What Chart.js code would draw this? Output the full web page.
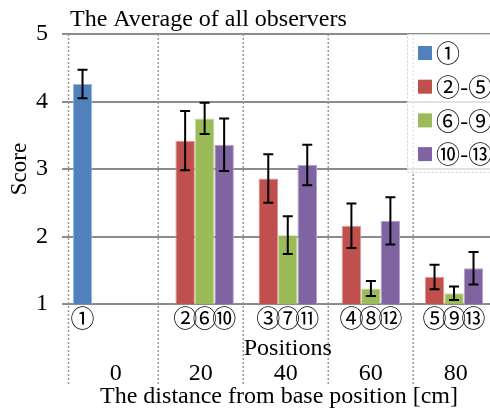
<!DOCTYPE html>
<html>
<head>
<meta charset="utf-8">
<script src="https://cdn.jsdelivr.net/npm/chart.js@4.4.1/dist/chart.umd.min.js"></script>
<style>
  html, body { margin: 0; padding: 0; background: #fff; }
  #wrap { width: 490px; height: 412px; }
</style>
</head>
<body>
<div id="wrap"><canvas id="chartScore" width="490" height="412"></canvas></div>
<script>
// ── DATOS ─────────────────────────────────────────────────────────
const distances   = [0, 20, 40, 60, 80]
const yTicks      = [1, 2, 3, 4, 5]
const seriesNames = ['①', '②-⑤', '⑥-⑨', '⑩-⑬']

const scoreBlue   = [4.26, null, null, null, null]
const scoreRed    = [null, 3.42, 2.86, 2.16, 1.40]
const scoreGreen  = [null, 3.75, 2.02, 1.23, 1.16]
const scorePurple = [null, 3.36, 3.06, 2.23, 1.53]

const errBlue     = [0.21, null, null, null, null]
const errRed      = [null, 0.44, 0.36, 0.33, 0.18]
const errGreen    = [null, 0.23, 0.28, 0.11, 0.10]
const errPurple   = [null, 0.39, 0.30, 0.35, 0.24]

const markBlue    = ['①', '', '', '', '']
const markRed     = ['', '②', '③', '④', '⑤']
const markGreen   = ['', '⑥', '⑦', '⑧', '⑨']
const markPurple  = ['', '⑩', '⑪', '⑫', '⑬']

const titleText   = 'The Average of all observers'
const yTitle      = 'Score'
const xInnerTitle = 'Positions'
const xTitle      = 'The distance from base position [cm]'

const colores = ['#4F81BD', '#C0504D', '#9BBB59', '#8064A2']
const bordes  = ['#9DB9DC', '#DE9A98', '#C6DA9E', '#B3A2C8']

const SERIF = '"Liberation Serif", "Times New Roman", serif'
const CJK   = '"Noto Sans CJK JP", "DejaVu Sans", sans-serif'

const scores = [scoreBlue, scoreRed, scoreGreen, scorePurple]
const errors = [errBlue, errRed, errGreen, errPurple]
const marks  = [markBlue, markRed, markGreen, markPurple]

// ── PLUGIN: líneas punteadas, barras de error, marcas y leyenda ──
const decoracion = {
    id: 'decoracion',
    beforeDatasetsDraw(chart) {
        const { ctx, chartArea } = chart
        const xd = chart.scales.xd
        const yEnd = chartArea.bottom + 80
        ctx.save()
        ctx.strokeStyle = '#9a9a9a'
        ctx.lineWidth = 1.5
        ctx.setLineDash([2, 2])
        const xs = [chartArea.left + 0.5].concat(distances.slice(0, -1).map(d => xd.getPixelForValue(d + 10)))
        xs.forEach(x => {
            ctx.beginPath()
            ctx.moveTo(x, chartArea.top)
            ctx.lineTo(x, yEnd)
            ctx.stroke()
        })
        ctx.restore()
    },
    afterDatasetsDraw(chart) {
        const { ctx, chartArea } = chart
        const y = chart.scales.y
        ctx.save()

        // barras de error
        ctx.strokeStyle = '#000'
        ctx.lineWidth = 2
        scores.forEach((serie, d) => {
            const meta = chart.getDatasetMeta(d)
            serie.forEach((v, j) => {
                if (v === null) return
                const bar = meta.data[j]
                const e = errors[d][j]
                const top = y.getPixelForValue(v + e)
                const bot = y.getPixelForValue(v - e)
                ctx.beginPath()
                ctx.moveTo(bar.x, top); ctx.lineTo(bar.x, bot)
                ctx.moveTo(bar.x - 5, top); ctx.lineTo(bar.x + 5, top)
                ctx.moveTo(bar.x - 5, bot); ctx.lineTo(bar.x + 5, bot)
                ctx.stroke()
            })
        })

        // números encerrados bajo cada barra
        ctx.fillStyle = '#000'
        ctx.font = '24px ' + CJK
        ctx.textAlign = 'center'
        ctx.textBaseline = 'middle'
        marks.forEach((serie, d) => {
            const meta = chart.getDatasetMeta(d)
            serie.forEach((m, j) => {
                if (!m) return
                ctx.fillText(m, meta.data[j].x, chartArea.bottom + 14)
            })
        })

        // "Positions"
        ctx.font = '24px ' + SERIF
        ctx.fillText(xInnerTitle, chart.scales.xd.getPixelForValue(40) + 2, chartArea.bottom + 45)

        // título
        ctx.textAlign = 'left'
        ctx.textBaseline = 'alphabetic'
        ctx.fillText(titleText, chartArea.left + 2, 26)
        ctx.restore()
    },
    afterDraw(chart) {
        const { ctx, chartArea } = chart
        const x0 = chartArea.right - 83
        const y0 = chartArea.top
        const w = 90
        const h = 138
        ctx.save()
        ctx.fillStyle = 'rgba(255,255,255,0.75)'
        ctx.fillRect(x0, y0, w, h)
        ctx.strokeStyle = '#d0d0d0'
        ctx.lineWidth = 1
        ctx.setLineDash([2, 2])
        ctx.strokeRect(x0 + 0.5, y0 + 0.5, w, h)
        ctx.setLineDash([])
        ctx.font = '24px ' + CJK
        ctx.textAlign = 'left'
        ctx.textBaseline = 'middle'
        seriesNames.forEach((name, i) => {
            const cy = y0 + 19 + i * 33.7
            ctx.fillStyle = colores[i]
            ctx.fillRect(x0 + 11, cy - 7, 14, 14)
            ctx.fillStyle = '#000'
            ctx.fillText(name, x0 + 29, cy)
        })
        ctx.restore()
    }
}

// ── GRÁFICO ───────────────────────────────────────────────────────
// Nota: Chart.js reserva 2 × padding de ticks en el ajuste del eje y
// suma el padding al margen lateral; por eso se usa lineHeight alto
// en los ticks del eje X y padding negativo en los títulos.
new Chart(document.getElementById('chartScore').getContext('2d'), {
    type: 'bar',
    data: {
        datasets: seriesNames.map((name, d) => ({
            label: name,
            data: distances.map((x, i) => ({ x: x, y: scores[d][i] })),
            backgroundColor: colores[d],
            borderColor: bordes[d],
            borderWidth: 1,
            categoryPercentage: 0.938,
            barPercentage: 1
        }))
    },
    options: {
        responsive: false,
        animation: false,
        devicePixelRatio: 1,
        layout: { padding: { top: 34, left: 0, right: 0, bottom: 0 } },
        plugins: { legend: { display: false }, tooltip: { enabled: false }, title: { display: false } },
        scales: {
            x: {
                type: 'linear',
                display: false,
                offset: false,
                min: -10.53,
                max: 91.0,
                afterBuildTicks: s => { s.ticks = distances.map(v => ({ value: v })) }
            },
            xd: {
                type: 'linear',
                position: 'bottom',
                offset: false,
                min: -11.24,
                max: 88.06,
                afterBuildTicks: s => { s.ticks = distances.map(v => ({ value: v })) },
                grid: { display: false, drawTicks: false },
                border: { display: false },
                ticks: { color: '#000', padding: 0, maxRotation: 0, autoSkip: false, font: { family: SERIF, size: 24, lineHeight: 5.833 } },
                title: { display: true, text: xTitle, color: '#000', font: { family: SERIF, size: 24, lineHeight: 1.0 }, padding: { top: -59.5, bottom: 3.5 } }
            },
            y: {
                min: 1,
                max: 5,
                afterBuildTicks: s => { s.ticks = yTicks.map(v => ({ value: v })) },
                grid: { color: '#8c8c8c', lineWidth: 2, tickLength: 6, tickColor: '#8c8c8c', tickWidth: 2 },
                border: { display: false },
                ticks: { color: '#000', padding: 14, font: { family: SERIF, size: 24 } },
                title: { display: true, text: yTitle, color: '#000', font: { family: SERIF, size: 23 }, padding: { top: 6.2, bottom: -11.8 } }
            }
        }
    },
    plugins: [decoracion]
})
</script>
</body>
</html>
